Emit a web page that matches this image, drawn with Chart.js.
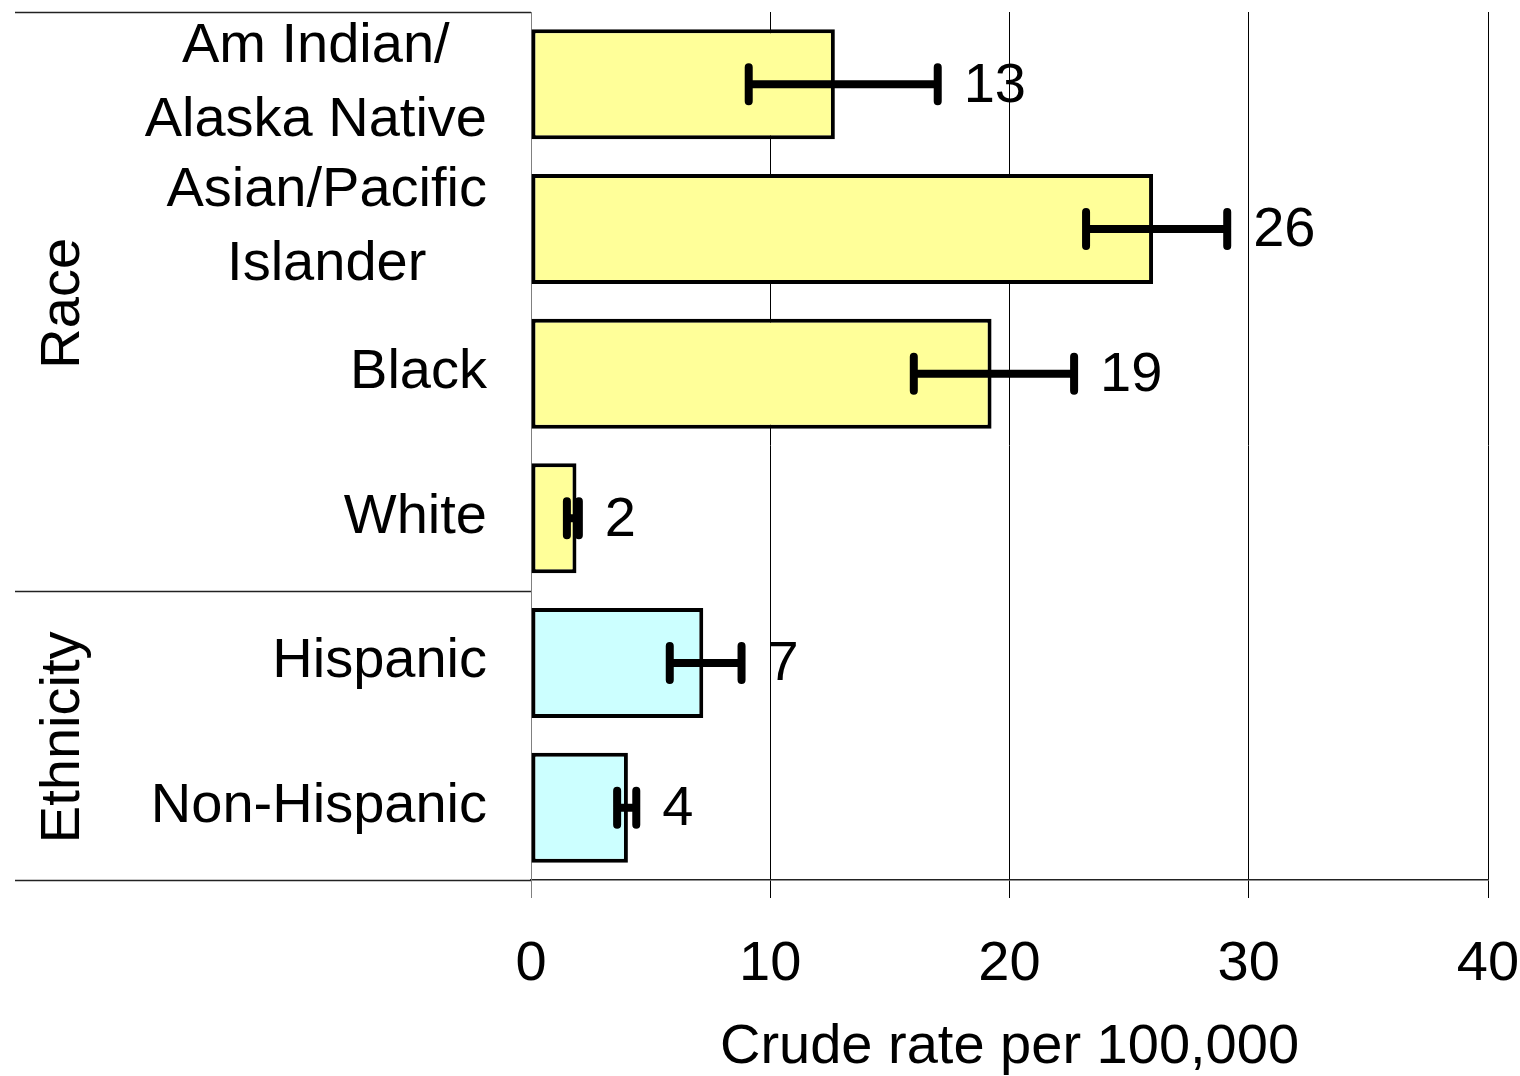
<!DOCTYPE html>
<html>
<head>
<meta charset="utf-8">
<script src="https://cdn.jsdelivr.net/npm/chart.js@4.4.0/dist/chart.umd.min.js"></script>
<style>
  html, body { margin: 0; padding: 0; background: #fff; }
</style>
</head>
<body>
<canvas id="rates" width="1520" height="1076"></canvas>
<script>
var categories = [["Am Indian/", "Alaska Native"], ["Asian/Pacific", "Islander"], "Black", "White", "Hispanic", "Non-Hispanic"];
var groups = ["Race", "Race", "Race", "Race", "Ethnicity", "Ethnicity"];
var rates = [12.7, 26.0, 19.25, 1.9, 7.2, 4.05];
var lower = [9.1, 23.2, 16.0, 1.5, 5.8, 3.6];
var upper = [17.0, 29.1, 22.7, 2.0, 8.8, 4.4];
var rateLabels = ["13", "26", "19", "2", "7", "4"];
var xTicks = [0, 10, 20, 30, 40];

var font = '"Liberation Sans", Arial, sans-serif';
var groupColors = { Race: '#FFFF99', Ethnicity: '#CCFFFF' };

// error bars, value labels, category labels, the left table lines and group titles
var decorations = {
  id: 'decorations',
  afterDatasetsDraw: function (chart) {
    var c = chart.ctx, x = chart.scales.x, area = chart.chartArea;
    var bars = chart.getDatasetMeta(0).data;
    c.save();
    c.strokeStyle = '#000';
    c.lineWidth = 8;
    c.lineCap = 'round';
    c.fillStyle = '#000';
    c.font = '56px ' + font;
    c.textAlign = 'left';
    c.textBaseline = 'middle';
    bars.forEach(function (bar, i) {
      var x0 = x.getPixelForValue(lower[i]), x1 = x.getPixelForValue(upper[i]), yc = bar.y;
      c.beginPath();
      c.moveTo(x0, yc); c.lineTo(x1, yc);
      c.moveTo(x0, yc - 17); c.lineTo(x0, yc + 17);
      c.moveTo(x1, yc - 17); c.lineTo(x1, yc + 17);
      c.stroke();
      c.fillText(rateLabels[i], x1 + 26, yc + 2);
    });

    // category labels: block right-aligned, lines centred inside the block
    c.textAlign = 'center';
    var labelRight = area.left - 44;
    categories.forEach(function (label, i) {
      var lines = Array.isArray(label) ? label : [label];
      var w = Math.max.apply(null, lines.map(function (t) { return c.measureText(t).width; }));
      var cx = labelRight - w / 2;
      var yc = chart.scales.y.getPixelForValue(i);
      lines.forEach(function (t, k) {
        c.fillText(t, cx, yc + (k - (lines.length - 1) / 2) * 74 - 1);
      });
    });

    // table lines on the left
    c.lineWidth = 1.5;
    c.lineCap = 'butt';
    c.strokeStyle = '#222';
    var step = bars.length > 1 ? bars[1].y - bars[0].y : 0;
    var rules = [area.top, area.bottom];
    var spans = [];
    var start = 0;
    for (var i = 1; i <= groups.length; i++) {
      if (i === groups.length || groups[i] !== groups[start]) {
        spans.push({ name: groups[start], top: bars[start].y - step / 2, bottom: bars[i - 1].y + step / 2 });
        if (i < groups.length) rules.push((bars[i - 1].y + bars[i].y) / 2);
        start = i;
      }
    }
    rules.forEach(function (ly) {
      c.beginPath();
      c.moveTo(15, Math.round(ly) + 0.5);
      c.lineTo(area.left, Math.round(ly) + 0.5);
      c.stroke();
    });

    spans.forEach(function (s) {
      c.save();
      c.translate(62, (s.top + s.bottom) / 2);
      c.rotate(-Math.PI / 2);
      c.fillText(s.name, -2, 2);
      c.restore();
    });
    c.restore();
  }
};

new Chart(document.getElementById('rates'), {
  type: 'bar',
  data: {
    labels: categories,
    datasets: [{
      data: rates,
      backgroundColor: groups.map(function (g) { return groupColors[g]; }),
      borderColor: '#000',
      borderWidth: 4,
      borderSkipped: false,
      barPercentage: 0.76,
      categoryPercentage: 1
    }]
  },
  options: {
    indexAxis: 'y',
    responsive: false,
    animation: false,
    devicePixelRatio: 1,
    layout: { padding: { left: 0, right: 0, top: 12, bottom: 0 } },
    plugins: { legend: { display: false }, tooltip: { enabled: false } },
    scales: {
      x: {
        min: 0,
        max: 40,
        afterBuildTicks: function (scale) {
          scale.ticks = xTicks.map(function (v) { return { value: v }; });
        },
        afterFit: function (scale) {
          scale.height = 196;
          scale.paddingLeft = 0;
          scale.paddingRight = 32;
        },
        grid: {
          color: function (ctx) { return ctx.tick && ctx.tick.value === 0 ? '#808080' : '#000'; },
          lineWidth: 1,
          tickLength: 18
        },
        border: { display: true, color: '#222', width: 1.5 },
        ticks: { color: '#000', font: { family: font, size: 56 }, padding: 33 },
        title: {
          display: true,
          text: 'Crude rate per 100,000',
          color: '#000',
          font: { family: font, size: 56, lineHeight: 1 },
          padding: { top: 0, bottom: 0 }
        }
      },
      y: {
        afterFit: function (scale) {
          scale.width = 531;
          scale.paddingTop = 0;
          scale.paddingBottom = 0;
        },
        grid: { display: false, drawTicks: false },
        border: { display: true, color: '#808080', width: 1 },
        ticks: { display: false, autoSkip: false }
      }
    }
  },
  plugins: [decorations]
});
</script>
</body>
</html>
